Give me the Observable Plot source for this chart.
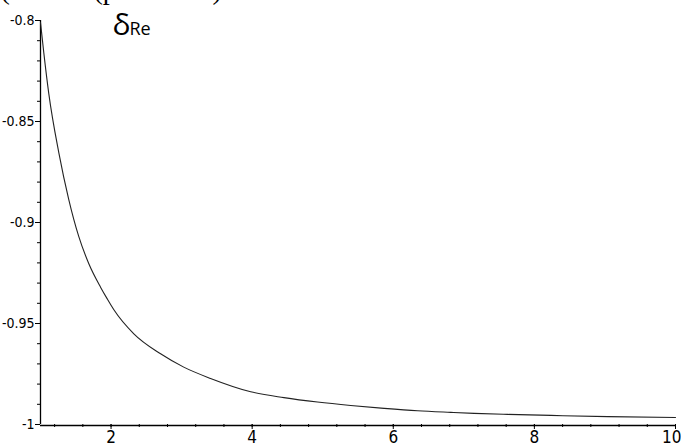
<!DOCTYPE html>
<html>
<head>
<meta charset="utf-8">
<script src="https://cdn.jsdelivr.net/npm/d3@7"></script>
<script src="https://cdn.jsdelivr.net/npm/@observablehq/plot@0.6"></script>
<style>
  html, body { margin: 0; padding: 0; background: #fff; }
  #chart svg { display: block; }
</style>
</head>
<body>
<div id="chart"></div>
<script>
// Curve values
const xs = [1, 1.047, 1.118, 1.26, 1.40, 1.543, 1.685, 1.851, 1.946, 2.04, 2.323, 2.702, 3.03, 3.41, 3.979, 4.45, 4.925, 5.397, 5.87, 6.343, 6.816, 7.146, 7.62, 8.234, 9.04, 10];
const ys = [-0.801, -0.816, -0.8363, -0.8655, -0.8885, -0.9070, -0.9204, -0.9320, -0.9378, -0.9432, -0.9551, -0.9650, -0.9716, -0.9772, -0.9838, -0.9867, -0.9889, -0.9906, -0.9920, -0.9932, -0.9940, -0.9945, -0.9950, -0.9955, -0.9961, -0.9965];

// Ticks and labels
const xMajor = [2, 4, 6, 8, 10];
const xMajorLabels = ["2", "4", "6", "8", "10"];
const xMinor = [1.2, 1.6, 2.0, 2.4, 2.8, 3.2, 3.6, 4.0, 4.4, 4.8, 5.2, 5.6, 6.0, 6.4, 6.8, 7.2, 7.6, 8.0, 8.4, 8.8, 9.2, 9.6, 10.0];
const yMajor = [-1, -0.95, -0.9, -0.85, -0.8];
const yMajorLabels = ["-1", "-0.95", "-0.9", "-0.85", "-0.8"];
const yMinor = [-0.99, -0.98, -0.97, -0.96, -0.94, -0.93, -0.92, -0.91, -0.89, -0.88, -0.87, -0.86, -0.84, -0.83, -0.82, -0.81];

const curveLabel = "δ";
const curveSub = "Re";
const topFragments = ["(", "(p", ")"];

const data = xs.map((x, i) => ({x, y: ys[i]}));
const narrow = "'Liberation Sans Narrow', 'Arial Narrow', 'DejaVu Sans Condensed', sans-serif";
const xLabelFmt = d => xMajorLabels[xMajor.indexOf(d)];
const lastX = xMajor[xMajor.length - 1];
const innerX = xMajor.slice(0, -1);

const chart = Plot.plot({
  width: 681,
  height: 446,
  marginLeft: 40,
  marginRight: 6,
  marginTop: 20,
  marginBottom: 22,
  style: {background: "#fff", overflow: "visible"},
  x: {domain: [1, 10], axis: null, label: null},
  y: {domain: [-1, -0.8], axis: null, label: null},
  marks: [
    // minor ticks
    Plot.axisX({ticks: xMinor, tickSize: 3, text: null, label: null, anchor: "bottom", stroke: "#000"}),
    Plot.axisY({ticks: yMinor, tickSize: 3, text: null, label: null, anchor: "left", stroke: "#000"}),
    // major x ticks
    Plot.axisX({ticks: xMajor, tickSize: 5, text: null, label: null, anchor: "bottom", stroke: "#000"}),
    // x tick labels
    Plot.axisX({
      ticks: innerX, tickSize: 5, tickPadding: 1, anchor: "bottom", strokeOpacity: 0, label: null,
      tickFormat: xLabelFmt, fontSize: 17, fontFamily: narrow, fill: "#000"
    }),
    Plot.axisX({
      ticks: [lastX], tickSize: 5, tickPadding: 1, anchor: "bottom", strokeOpacity: 0, label: null,
      tickFormat: xLabelFmt, fontSize: 17, fontFamily: narrow, fill: "#000", textAnchor: "end", dx: 6
    }),
    Plot.axisY({
      ticks: yMajor, tickSize: 5, tickPadding: 1, anchor: "left", stroke: "#000", label: null,
      tickFormat: d => yMajorLabels[yMajor.indexOf(d)],
      fontSize: 14, fontFamily: narrow, fill: "#000"
    }),
    // axis lines
    Plot.ruleX([1], {stroke: "#000", strokeWidth: 1.3}),
    Plot.ruleY([-1], {stroke: "#000", strokeWidth: 1.3, dy: 1}),
    // curve
    Plot.line(data, {x: "x", y: "y", stroke: "#222", strokeWidth: 1.1, curve: "monotone-x"}),
    // labels
    Plot.text([curveLabel], {frameAnchor: "top-left", dx: 72, dy: 14, text: d => d, textAnchor: "start", lineAnchor: "bottom", fontSize: 30, fontFamily: "'Open Sans', sans-serif", fill: "#000"}),
    Plot.text([curveSub], {frameAnchor: "top-left", dx: 89, dy: 14, text: d => d, textAnchor: "start", lineAnchor: "bottom", fontSize: 18, fontFamily: "'Open Sans', sans-serif", fill: "#000"}),
    Plot.text([topFragments[0]], {frameAnchor: "top-left", dx: -40, dy: -22, text: d => d, textAnchor: "start", lineAnchor: "bottom", fontSize: 28, fontFamily: "'Liberation Serif', serif", fill: "#000"}),
    Plot.text([topFragments[1]], {frameAnchor: "top-left", dx: 53, dy: -22, text: d => d, textAnchor: "start", lineAnchor: "bottom", fontSize: 28, fontFamily: "'Liberation Serif', serif", fill: "#000"}),
    Plot.text([topFragments[2]], {frameAnchor: "top-left", dx: 172, dy: -22, text: d => d, textAnchor: "start", lineAnchor: "bottom", fontSize: 28, fontFamily: "'Liberation Serif', serif", fill: "#000"})
  ]
});
document.getElementById("chart").appendChild(chart);
</script>
</body>
</html>
